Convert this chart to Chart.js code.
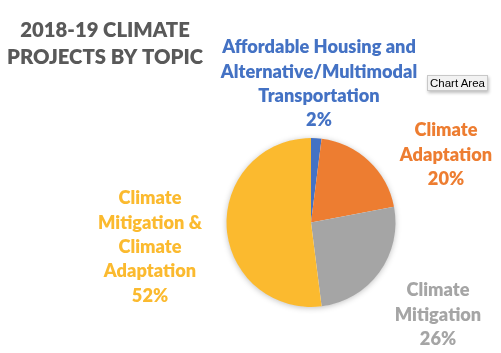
<!DOCTYPE html>
<html><head><meta charset="utf-8">
<script src="https://cdn.jsdelivr.net/npm/chart.js@4.4.0/dist/chart.umd.min.js"></script>
<style>
html,body{margin:0;padding:0;background:#fff;}
#wrap{position:relative;width:501px;height:353px;}
#tip{position:absolute;left:427px;top:75px;width:61px;height:16px;background:#f2f2f2;border:1px solid #c8c8c8;box-shadow:1px 2px 3px rgba(0,0,0,0.25);font:11.5px "Liberation Sans",Arial,sans-serif;color:#000;line-height:14px;text-align:center;box-sizing:border-box;white-space:nowrap;}
</style></head>
<body><div id="wrap"><canvas id="c" width="501" height="353"></canvas><div id="tip">Chart Area</div></div>
<script>
const titleLines = ["2018-19 CLIMATE", "PROJECTS BY TOPIC"];
const categories = [
  ["Affordable Housing and", "Alternative/Multimodal", "Transportation"],
  ["Climate", "Adaptation"],
  ["Climate", "Mitigation"],
  ["Climate", "Mitigation &", "Climate", "Adaptation"]
];
const values = [2, 20, 26, 52];
const colors = ["#4472C4", "#ED7D31", "#A5A5A5", "#FBBA2F"];

// label anchor offsets relative to pie centre (layout only)
const labelPos = [[8, -175], [135, -92], [127, 68], [-161, -24]];
const LABEL_FONT = '800 18.2px Lato, "Open Sans", sans-serif';
const LINE_H = 24.3;

const shadowPlugin = {
  id: 'pieShadow',
  beforeDatasetsDraw(chart) {
    const a = chart.getDatasetMeta(0).data[0];
    if (!a) return;
    const ctx = chart.ctx;
    ctx.save();
    ctx.shadowColor = 'rgba(0,0,0,0.28)';
    ctx.shadowBlur = 6;
    ctx.shadowOffsetX = 0;
    ctx.shadowOffsetY = 1;
    ctx.fillStyle = '#ffffff';
    ctx.beginPath();
    ctx.arc(a.x, a.y, a.outerRadius - 0.5, 0, Math.PI * 2);
    ctx.fill();
    ctx.restore();
  }
};

const labelPlugin = {
  id: 'excelLabels',
  afterDraw(chart) {
    const ctx = chart.ctx;
    const a = chart.getDatasetMeta(0).data[0];
    ctx.save();
    ctx.textAlign = 'center';
    ctx.textBaseline = 'middle';
    // title
    ctx.fillStyle = '#595959';
    ctx.font = '800 20.3px Lato, "Open Sans", sans-serif';
    ctx.fillText(titleLines[0], 105, 30);
    ctx.fillText(titleLines[1], 105, 57);
    // data labels
    ctx.font = LABEL_FONT;
    categories.forEach((lines, i) => {
      const all = lines.concat([values[i] + '%']);
      const x = a.x + labelPos[i][0];
      const y0 = a.y + labelPos[i][1];
      ctx.fillStyle = colors[i];
      all.forEach((t, k) => ctx.fillText(t, x, y0 + k * LINE_H));
    });
    ctx.restore();
  }
};

new Chart(document.getElementById('c'), {
  type: 'pie',
  data: {
    labels: categories.map(l => l.join(' ')),
    datasets: [{ data: values, backgroundColor: colors, borderWidth: 0 }]
  },
  options: {
    responsive: false,
    animation: false,
    layout: { padding: { left: 226, right: 105, top: 138, bottom: 46 } },
    plugins: { legend: { display: false }, tooltip: { enabled: false }, title: { display: false } }
  },
  plugins: [shadowPlugin, labelPlugin]
});
</script>
</body></html>
